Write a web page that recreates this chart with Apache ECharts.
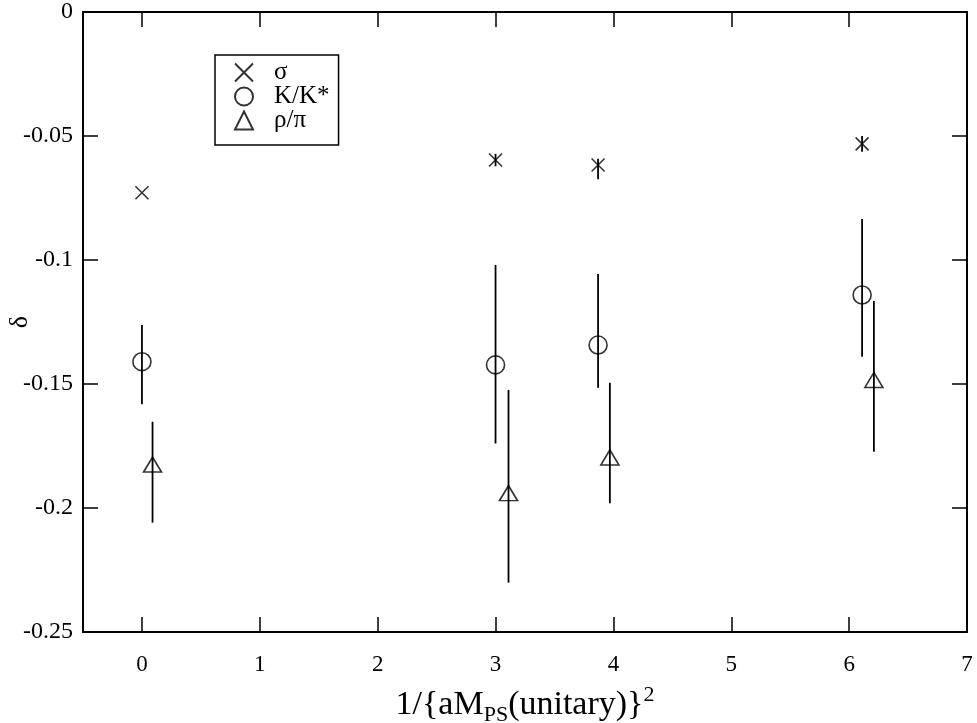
<!DOCTYPE html>
<html>
<head>
<meta charset="utf-8">
<script src="https://cdn.jsdelivr.net/npm/echarts@6/dist/echarts.min.js"></script>
<style>
  html, body { margin: 0; padding: 0; background: #fff; }
  #chart { width: 977px; height: 723px; }
</style>
</head>
<body>
<div id="chart"></div>
<script>
// x tick values
var xTicks = [0, 1, 2, 3, 4, 5, 6, 7]

// sigma
var sigmaX = [0, 3.0, 3.87, 6.11]
var sigmaY = [-0.0729, -0.0597, -0.0617, -0.0532]
var sigmaLo = [-0.0729, -0.0622, -0.0674, -0.0564]
var sigmaHi = [-0.0729, -0.0572, -0.0592, -0.0500]

// K/K*
var kX = [0, 3.0, 3.87, 6.11]
var kY = [-0.1410, -0.1423, -0.1343, -0.1141]
var kLo = [-0.1582, -0.1740, -0.1515, -0.1390]
var kHi = [-0.1262, -0.1020, -0.1056, -0.0835]

// rho/pi
var rhoX = [0.09, 3.11, 3.97, 6.21]
var rhoY = [-0.1825, -0.1940, -0.1796, -0.1484]
var rhoLo = [-0.2059, -0.2301, -0.1981, -0.1773]
var rhoHi = [-0.1652, -0.1524, -0.1495, -0.1165]

var font = '"Liberation Serif", "DejaVu Serif", serif'

function pts(xs, ys) {
  return xs.map(function (x, i) { return [x, ys[i]] })
}
function bars(xs, lo, hi) {
  return xs.map(function (x, i) { return [x, lo[i], hi[i]] })
}

function errorBars(data) {
  return {
    type: 'custom',
    silent: true,
    z: 1,
    data: data,
    renderItem: function (params, api) {
      var a = api.coord([api.value(0), api.value(1)])
      var b = api.coord([api.value(0), api.value(2)])
      return {
        type: 'line',
        shape: { x1: a[0], y1: a[1], x2: b[0], y2: b[1] },
        style: { stroke: '#000', lineWidth: 1.8 }
      }
    }
  }
}

var markerStyle = { color: 'transparent', borderColor: '#000', borderWidth: 1.6 }

function initChart() {
  var chartDom = document.getElementById('chart')
  var myChart = echarts.init(chartDom)

  var option = {
    animation: false,
    backgroundColor: '#fff',
    grid: { left: 83, right: 10, top: 12, bottom: 91, outerBoundsMode: 'none' },
    legend: {
      orient: 'vertical',
      left: 215,
      top: 55,
      padding: [5, 9, 12, 19],
      itemGap: -1,
      itemWidth: 18,
      itemHeight: 18,
      borderColor: '#000',
      borderWidth: 1.5,
      data: ['σ', 'K/K*', 'ρ/π'],
      textStyle: { fontFamily: font, fontSize: 25, lineHeight: 18, color: '#000', padding: [0, 0, 0, 16] }
    },
    xAxis: [
      {
        type: 'value',
        min: -0.5,
        max: 7,
        splitLine: { show: false },
        axisLine: { onZero: false, lineStyle: { color: '#000', width: 2 } },
        axisTick: { inside: true, length: 15, customValues: xTicks, lineStyle: { color: '#000', width: 1.5 } },
        axisLabel: { customValues: xTicks, margin: 21, fontFamily: font, fontSize: 23, color: '#000' },
        name: '1/{aM{sub|PS}(unitary)}{sup|2}',
        nameLocation: 'middle',
        nameMoveOverlap: false,
        nameGap: 52,
        nameTextStyle: {
          fontFamily: font,
          fontSize: 34,
          color: '#000',
          rich: {
            sub: { fontFamily: font, fontSize: 22, color: '#000', verticalAlign: 'bottom', padding: [20, 0, 0, 0] },
            sup: { fontFamily: font, fontSize: 22, color: '#000', verticalAlign: 'top', padding: [0, 0, 14, 0] }
          }
        }
      },
      {
        type: 'value',
        position: 'top',
        min: -0.5,
        max: 7,
        splitLine: { show: false },
        axisLine: { onZero: false, lineStyle: { color: '#000', width: 2 } },
        axisTick: { inside: true, length: 15, customValues: xTicks, lineStyle: { color: '#000', width: 1.5 } },
        axisLabel: { show: false }
      }
    ],
    yAxis: [
      {
        type: 'value',
        min: -0.25,
        max: 0,
        interval: 0.05,
        splitLine: { show: false },
        axisLine: { onZero: false, lineStyle: { color: '#000', width: 2 } },
        axisTick: { inside: true, length: 15, lineStyle: { color: '#000', width: 1.5 } },
        axisLabel: {
          margin: 10,
          fontFamily: font,
          fontSize: 24,
          color: '#000',
          formatter: function (v) { return String(parseFloat(v.toFixed(3))) }
        },
        name: 'δ',
        nameLocation: 'middle',
        nameMoveOverlap: false,
        nameRotate: 90,
        nameGap: 50,
        nameTextStyle: { fontFamily: font, fontSize: 26, color: '#000' }
      },
      {
        type: 'value',
        position: 'right',
        min: -0.25,
        max: 0,
        interval: 0.05,
        splitLine: { show: false },
        axisLine: { onZero: false, lineStyle: { color: '#000', width: 2 } },
        axisTick: { inside: true, length: 15, lineStyle: { color: '#000', width: 1.5 } },
        axisLabel: { show: false }
      }
    ],
    series: [
      errorBars(bars(sigmaX, sigmaLo, sigmaHi)),
      errorBars(bars(kX, kLo, kHi)),
      errorBars(bars(rhoX, rhoLo, rhoHi)),
      {
        name: 'σ',
        type: 'scatter',
        z: 3,
        symbol: 'path://M0,0L10,10M10,0L0,10',
        symbolSize: 13,
        itemStyle: markerStyle,
        data: pts(sigmaX, sigmaY)
      },
      {
        name: 'K/K*',
        type: 'scatter',
        z: 3,
        symbol: 'circle',
        symbolSize: 18,
        itemStyle: markerStyle,
        data: pts(kX, kY)
      },
      {
        name: 'ρ/π',
        type: 'scatter',
        z: 3,
        symbol: 'triangle',
        symbolSize: [18, 15],
        itemStyle: markerStyle,
        data: pts(rhoX, rhoY)
      }
    ]
  }

  option && myChart.setOption(option)
}

// make sure the serif face is ready before drawing on canvas
if (document.fonts && document.fonts.load) {
  document.fonts.load('24px "Liberation Serif"').then(initChart, initChart)
} else {
  initChart()
}
</script>
</body>
</html>
